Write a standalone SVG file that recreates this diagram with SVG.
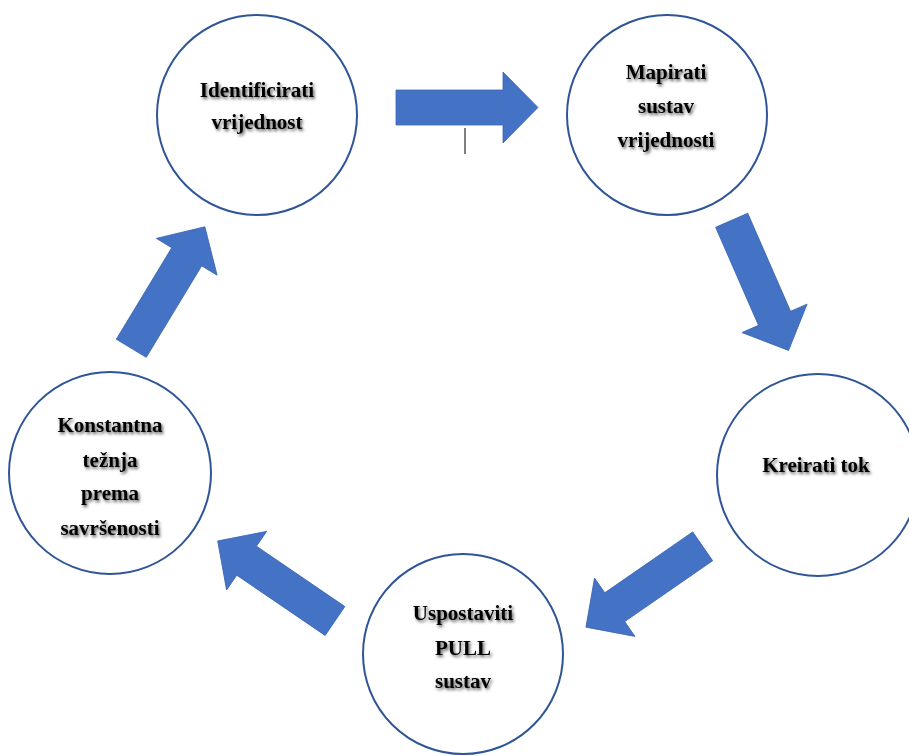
<svg xmlns="http://www.w3.org/2000/svg" width="909" height="756" viewBox="0 0 909 756">
<defs>
<style>
.node circle{fill:#ffffff;stroke:#2F5597;stroke-width:2}
.node text{font-family:"Liberation Serif","Times New Roman",serif;font-weight:bold;font-size:21px;fill:#000;text-anchor:middle;filter:url(#shadow)}
.arrow{fill:#4472C4;stroke:#3B66B5;stroke-width:0.8}
</style>
<filter id="shadow" x="-20%" y="-50%" width="140%" height="200%">
<feDropShadow dx="1.5" dy="2" stdDeviation="1.8" flood-color="#000" flood-opacity="0.65"/>
</filter>
<path id="arr" d="M0,-17.5 L107,-17.5 L107,-35.5 L142,0 L107,35.5 L107,17.5 L0,17.5 Z"/>
</defs>
<rect width="909" height="756" fill="#ffffff"/>
<g id="connectors">
<use href="#arr" class="arrow" transform="translate(396,107.5)"/>
<use href="#arr" class="arrow" transform="translate(731.7,220.3) rotate(66.4)"/>
<use href="#arr" class="arrow" transform="translate(702.7,546.3) rotate(145.3)"/>
<use href="#arr" class="arrow" transform="translate(335,621) rotate(214.3)"/>
<use href="#arr" class="arrow" transform="translate(131.3,348.3) rotate(-58.8)"/>
<line x1="465" y1="128" x2="465" y2="154" stroke="#555" stroke-width="1.5"/>
</g>
<g id="n1" class="node">
<circle cx="257" cy="115" r="100"/>
<text x="257" y="97">Identificirati</text>
<text x="257" y="129">vrijednost</text>
</g>
<g id="n2" class="node">
<circle cx="667" cy="115" r="100"/>
<text x="666" y="79">Mapirati</text>
<text x="666" y="113">sustav</text>
<text x="666" y="147">vrijednosti</text>
</g>
<g id="n3" class="node">
<circle cx="818" cy="475" r="101"/>
<text x="816" y="472">Kreirati tok</text>
</g>
<g id="n4" class="node">
<circle cx="463" cy="654" r="100"/>
<text x="463" y="620">Uspostaviti</text>
<text x="463" y="655">PULL</text>
<text x="463" y="688">sustav</text>
</g>
<g id="n5" class="node">
<circle cx="110" cy="473" r="101"/>
<text x="110" y="432">Konstantna</text>
<text x="110" y="467">težnja</text>
<text x="110" y="500">prema</text>
<text x="110" y="535">savršenosti</text>
</g>
</svg>
